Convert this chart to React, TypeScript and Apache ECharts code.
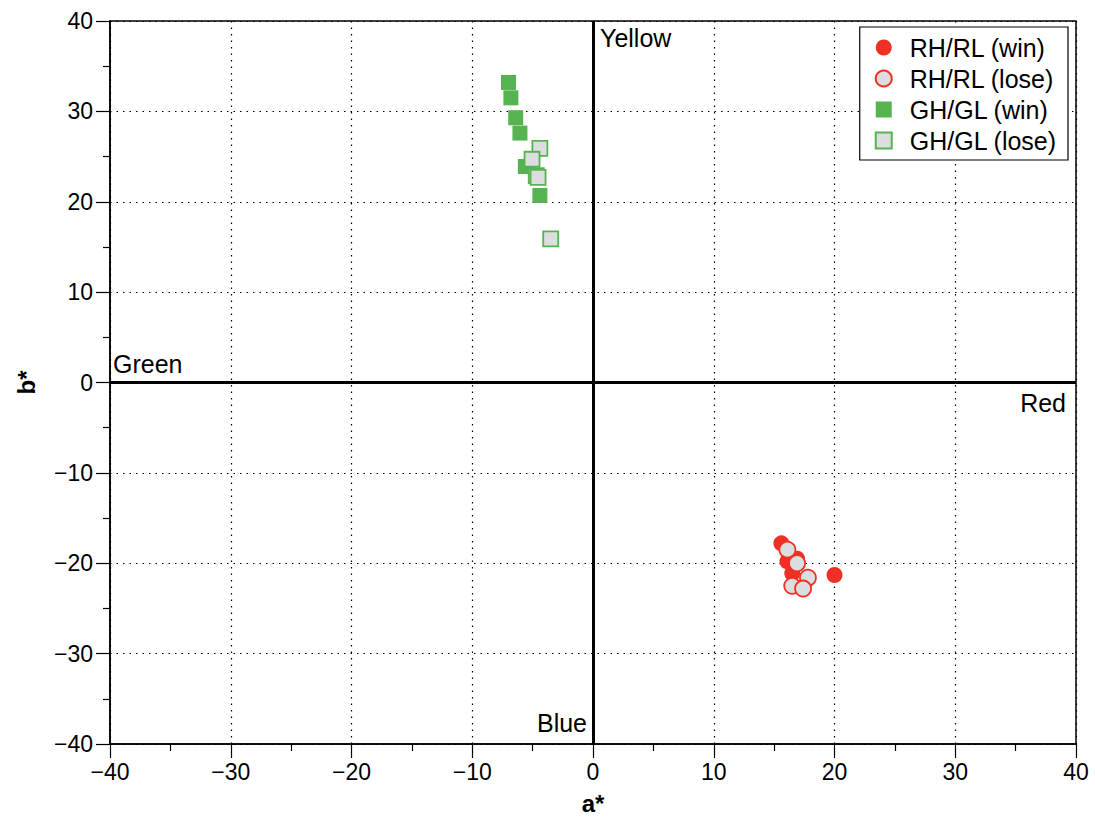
import React, { useEffect, useRef } from "react";
import * as echarts from "echarts";

const axisTicks = [-40, -30, -20, -10, 0, 10, 20, 30, 40];

const redWin: [number, number][] = [
  [15.6, -17.8],
  [16.1, -19.8],
  [16.9, -19.5],
  [16.5, -21.1],
  [20.0, -21.3],
];
const redLose: [number, number][] = [
  [16.1, -18.5],
  [16.9, -20.0],
  [17.8, -21.6],
  [16.5, -22.5],
  [17.4, -22.8],
];
const greenWin: [number, number][] = [
  [-7.0, 33.2],
  [-6.8, 31.5],
  [-6.4, 29.3],
  [-6.05, 27.6],
  [-5.6, 23.9],
  [-4.4, 20.7],
];
const greenLose: [number, number][] = [
  [-4.4, 25.9],
  [-5.05, 24.7],
  [-4.7, 22.9],
  [-4.55, 22.7],
  [-3.5, 15.9],
];

const quadrantLabels = [
  { name: "Yellow", coord: [0, 40], position: [7, 17], align: "left" },
  { name: "Green", coord: [-40, 0], position: [3, -19], align: "left" },
  { name: "Red", coord: [40, 0], position: [-10, 20], align: "right" },
  { name: "Blue", coord: [0, -40], position: [-6, -21], align: "right" },
];

const RED = "#EE3124";
const GREEN = "#55B450";
const GRAY = "#DCDDDF";
const FONT = "Liberation Sans, Arial, Helvetica, sans-serif";

const fmt = (v: number) => String(v).replace("-", "\u2212");

export default function App() {
  const ref = useRef<HTMLDivElement>(null);
  useEffect(() => {
    const chart = echarts.init(ref.current!, undefined, { renderer: "svg" });
    const axisCommon = {
      type: "value",
      min: axisTicks[0],
      max: axisTicks[axisTicks.length - 1],
      interval: 10,
      nameLocation: "middle",
      nameTextStyle: { fontFamily: FONT, fontSize: 24, fontWeight: "bold", color: "#000" },
      axisLine: { show: true, onZero: false, lineStyle: { color: "#000", width: 1.5 } },
      axisTick: { show: true, length: 14, inside: false, lineStyle: { color: "#000", width: 1.2 } },
      minorTick: { show: true, splitNumber: 2, length: 7, lineStyle: { color: "#000", width: 1.2 } },
      axisLabel: { fontFamily: FONT, fontSize: 23, color: "#000", formatter: fmt, margin: 16 },
      splitLine: { show: true, lineStyle: { color: "#000", type: [1.5, 5], width: 1.2 } },
    };
    chart.setOption({
      animation: false,
      backgroundColor: "#fff",
      grid: {
        left: 110,
        right: 19,
        top: 21,
        bottom: 74,
        show: true,
        borderColor: "#000",
        borderWidth: 1.5,
        backgroundColor: "transparent",
      },
      xAxis: { ...axisCommon, name: "a*", nameGap: 47 },
      yAxis: { ...axisCommon, name: "b*", nameGap: 72, axisLabel: { ...axisCommon.axisLabel, margin: 17 } },
      legend: {
        right: 27,
        top: 27,
        orient: "vertical",
        backgroundColor: "#fff",
        borderColor: "#000",
        borderWidth: 1.2,
        padding: [8, 11, 7, 15],
        itemGap: 6,
        itemWidth: 16,
        itemHeight: 16,
        textStyle: { fontFamily: FONT, fontSize: 25, color: "#000", padding: [0, 0, 0, 13] },
        data: ["RH/RL (win)", "RH/RL (lose)", "GH/GL (win)", "GH/GL (lose)"],
      },
      series: [
        {
          name: "axes",
          type: "scatter",
          data: [],
          silent: true,
          markLine: {
            silent: true,
            symbol: ["none", "none"],
            label: { show: false },
            lineStyle: { color: "#000", width: 3, type: "solid" },
            data: [{ xAxis: 0 }, { yAxis: 0 }],
          },
          markPoint: {
            symbol: "circle",
            symbolSize: 0,
            data: quadrantLabels.map((q) => ({
              name: q.name,
              coord: q.coord,
              label: {
                show: true,
                formatter: q.name,
                position: q.position,
                align: q.align,
                verticalAlign: "middle",
                fontFamily: FONT,
                fontSize: 25,
                color: "#000",
              },
            })),
          },
        },
        {
          name: "RH/RL (win)",
          type: "scatter",
          symbol: "circle",
          symbolSize: 16,
          itemStyle: { color: RED, opacity: 1 },
          data: redWin,
        },
        {
          name: "RH/RL (lose)",
          type: "scatter",
          symbol: "circle",
          symbolSize: 16,
          itemStyle: { color: GRAY, borderColor: RED, borderWidth: 1.8, opacity: 1 },
          data: redLose,
        },
        {
          name: "GH/GL (win)",
          type: "scatter",
          symbol: "rect",
          symbolSize: 15,
          itemStyle: { color: GREEN, opacity: 1 },
          data: greenWin,
        },
        {
          name: "GH/GL (lose)",
          type: "scatter",
          symbol: "rect",
          symbolSize: 15,
          itemStyle: { color: GRAY, borderColor: GREEN, borderWidth: 1.8, opacity: 1 },
          data: greenLose,
        },
      ],
    });
    return () => chart.dispose();
  }, []);
  return (
    <div
      ref={ref}
      style={{ position: "fixed", left: 0, top: 0, width: 1095, height: 820 }}
    />
  );
}
